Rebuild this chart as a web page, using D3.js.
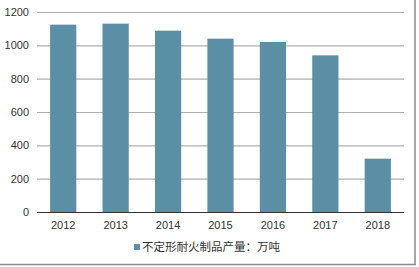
<!DOCTYPE html>
<html><head><meta charset="utf-8">
<script src="https://cdn.jsdelivr.net/npm/d3@7"></script>
<style>body{margin:0;background:#fff}svg{display:block}</style>
</head><body>
<svg id="c" width="419" height="267"></svg>
<script>
const categories = ["2012","2013","2014","2015","2016","2017","2018"];
const values = [1124, 1130, 1088, 1040, 1020, 940, 320];
const yTicks = [0,200,400,600,800,1000,1200];
const seriesName = "不定形耐火制品产量：万吨";

const svg = d3.select("#c");
const font = "'Liberation Sans', Arial, sans-serif";
const x = d3.scaleBand().domain(categories).range([37, 404]).paddingInner(0.5).paddingOuter(0.25);
const y = d3.scaleLinear().domain([0,1200]).range([212, 12]);

// gridlines
svg.append("g").selectAll("line").data(yTicks.filter(d=>d>0)).join("line")
  .attr("x1",37).attr("x2",404).attr("y1",d=>y(d)+0.5).attr("y2",d=>y(d)+0.5)
  .attr("stroke","#b0b0b0").attr("stroke-width",1.2);

// bars
svg.append("g").selectAll("rect").data(values).join("rect")
  .attr("x",(d,i)=>x(categories[i])).attr("width",x.bandwidth())
  .attr("y",d=>y(d)).attr("height",d=>y(0)-y(d))
  .attr("fill","#5b8fa5");

// baseline
svg.append("line").attr("x1",37).attr("x2",404).attr("y1",y(0)+0.5).attr("y2",y(0)+0.5)
  .attr("stroke","#333").attr("stroke-width",1);

// y labels
svg.append("g").selectAll("text").data(yTicks).join("text")
  .attr("x",29).attr("y",d=>y(d)).attr("dy","0.35em").attr("text-anchor","end")
  .attr("font-family",font).attr("font-size",11).attr("fill","#333").text(d=>d);

// x labels
svg.append("g").selectAll("text").data(categories).join("text")
  .attr("x",d=>x(d)+x.bandwidth()/2).attr("y",225).attr("dy","0.35em").attr("text-anchor","middle")
  .attr("font-family",font).attr("font-size",11).attr("fill","#333").text(d=>d);

// legend
svg.append("rect").attr("x",134).attr("y",244).attr("width",6).attr("height",6).attr("fill","#5b8fa5");
svg.append("text").attr("x",142).attr("y",247).attr("dy","0.35em")
  .attr("font-family","'Noto Sans CJK SC', sans-serif").attr("font-size",11.5).attr("fill","#333").text(seriesName);

// frame (right & bottom)
svg.append("line").attr("x1",415).attr("x2",415).attr("y1",0).attr("y2",265).attr("stroke","#8a8a8a").attr("stroke-width",1.5);
svg.append("line").attr("x1",0).attr("x2",416).attr("y1",264.5).attr("y2",264.5).attr("stroke","#8a8a8a").attr("stroke-width",1.5);
</script>
</body></html>
